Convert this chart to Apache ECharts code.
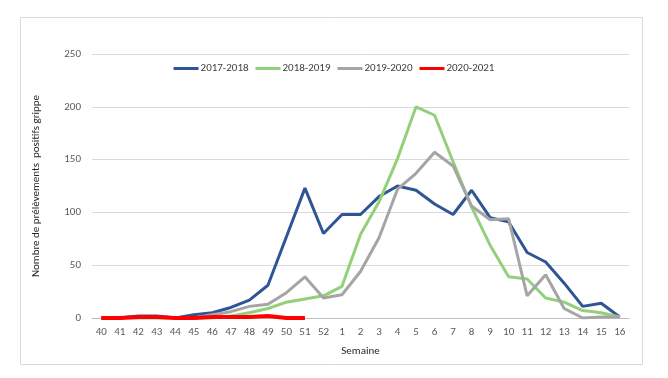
<!DOCTYPE html>
<html><head><meta charset="utf-8">
<script src="https://cdn.jsdelivr.net/npm/echarts@6/dist/echarts.min.js"></script>
<style>html,body{margin:0;padding:0;background:#fff}#c{width:668px;height:378px}</style>
</head><body><div id="c"></div>
<script>
const weeks = ['40','41','42','43','44','45','46','47','48','49','50','51','52','1','2','3','4','5','6','7','8','9','10','11','12','13','14','15','16'];
const s2017 = [0,0,2,2,0,3,5,10,17,31,77,123,80,98,98,115,125,121,108,98,121,95,91,62,53,33,11,14,1];
const s2018 = [0,0,0,0,0,0,0,2,5,9,15,18,21,30,79,110,151,200,192,148,105,69,39,37,19,15,7,5,1];
const s2019 = [0,0,0,0,0,0,3,6,11,13,24,39,19,22,44,76,122,137,157,144,106,93,94,21,41,9,0,1,1];
const s2020 = [0,0,1,1,0,0,1,1,1,2,0,0];
const names = ['2017-2018','2018-2019','2019-2020','2020-2021'];
const colors = ['#2F5597','#92D07A','#A5A5A5','#FF0000'];
const yTicks = [0,50,100,150,200,250];

const chart = echarts.init(document.getElementById('c'));
const font = 'Calibri, Carlito, "Open Sans", "Liberation Sans", sans-serif';
function mk(i, data, w){
  return {name:names[i], type:'line', data:data, showSymbol:false, symbol:'none',
    lineStyle:{color:colors[i], width:w}, itemStyle:{color:colors[i]}, animation:false};
}
chart.setOption({
  animation:false,
  textStyle:{fontFamily:font},
  graphic:[{type:'rect', shape:{x:20.5,y:17.5,width:622,height:347}, style:{fill:'none', stroke:'#D9D9D9', lineWidth:1}, silent:true}],
  legend:{top:58, left:'center', itemWidth:25, itemHeight:3, itemGap:7, icon:'rect',
    textStyle:{fontSize:11, color:'#404040', fontFamily:font, padding:[0,0,0,-3]},
    data:names.map((n,i)=>({name:n}))},
  grid:{left:92, right:39, top:54, bottom:60},
  xAxis:{type:'category', data:weeks, boundaryGap:true,
    axisLine:{lineStyle:{color:'#BFBFBF'}}, axisTick:{show:false},
    axisLabel:{fontSize:11, color:'#595959', margin:9, interval:0},
    name:'Semaine', nameLocation:'middle', nameGap:28,
    nameTextStyle:{fontSize:11, color:'#262626'}},
  yAxis:{type:'value', min:0, max:250, interval:50,
    axisLine:{show:false}, axisTick:{show:false},
    splitLine:{lineStyle:{color:'#D9D9D9'}},
    axisLabel:{fontSize:11, color:'#595959', margin:11},
    name:'Nombre de prélèvements  positifs grippe', nameLocation:'middle', nameGap:50,
    nameTextStyle:{fontSize:11, color:'#262626'}},
  series:[mk(0,s2017,3), mk(1,s2018,3), mk(2,s2019,3), mk(3,s2020,4)]
});
</script></body></html>
